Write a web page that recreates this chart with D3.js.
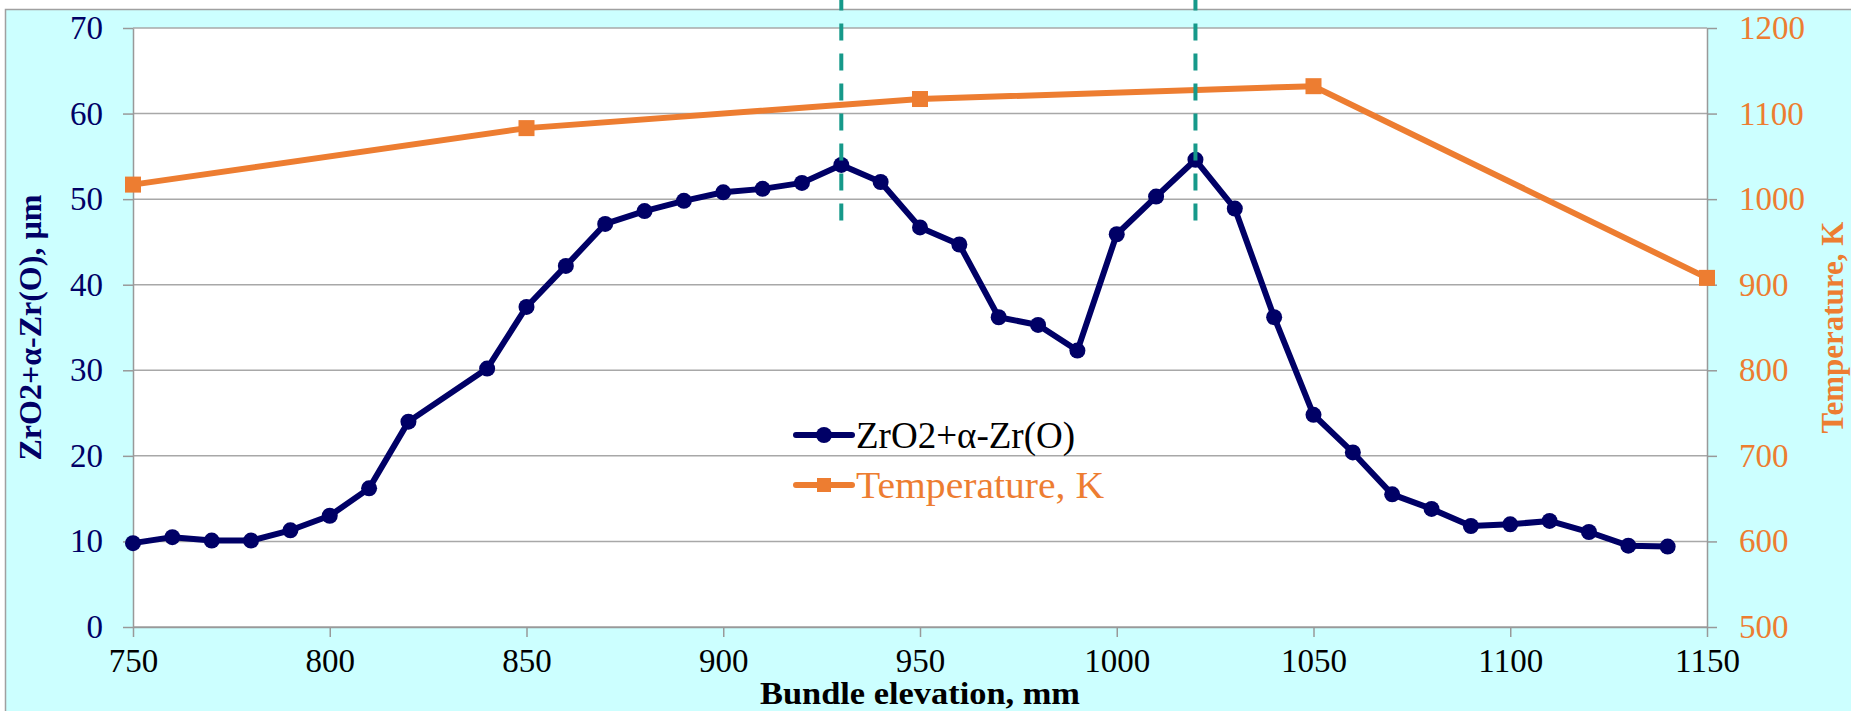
<!DOCTYPE html>
<html>
<head>
<meta charset="utf-8">
<script src="https://cdn.jsdelivr.net/npm/d3@7"></script>
<style>
  body { margin: 0; background: #fff; }
  svg { display: block; }
  .tick text { font-family: "Liberation Serif", serif; }
</style>
</head>
<body>
<div id="chart"></div>
<script>
// datos
var elevation = [750, 760, 770, 780, 790, 800, 810, 820, 840, 850, 860, 870, 880, 890, 900,
  910, 920, 930, 940, 950, 960, 970, 980, 990, 1000, 1010, 1020, 1030, 1040, 1050, 1060,
  1070, 1080, 1090, 1100, 1110, 1120, 1130, 1140];
var thickness = [9.8, 10.5, 10.1, 10.1, 11.3, 13.0, 16.2, 24.0, 30.2, 37.4, 42.2, 47.1, 48.6,
  49.8, 50.8, 51.2, 51.9, 54.0, 52.0, 46.7, 44.7, 36.2, 35.3, 32.3, 45.9, 50.3, 54.6, 48.9,
  36.2, 24.8, 20.4, 15.5, 13.8, 11.8, 12.0, 12.4, 11.1, 9.5, 9.4];

var tempElevation = [750, 850, 950, 1050, 1150];
var temperature = [1017, 1083, 1117, 1132, 908];

var dashedElevation = [930, 1020];
var dashedBottom = 47.5;

var xTicks = [750, 800, 850, 900, 950, 1000, 1050, 1100, 1150];
var leftTicks = [0, 10, 20, 30, 40, 50, 60, 70];
var rightTicks = [500, 600, 700, 800, 900, 1000, 1100, 1200];

var seriesNames = ["ZrO2+α-Zr(O)", "Temperature, K"];
var xTitle = "Bundle elevation, mm";
var leftTitle = "ZrO2+α-Zr(O), µm";
var rightTitle = "Temperature, K";

var width = 1851;
var height = 711;
var plot = { left: 133, right: 1707, top: 28, bottom: 627 };

var navy = "#000066";
var orange = "#ED7D31";
var teal = "#16998A";
var grid = "#A8A8A8";

var svg = d3.select("#chart")
  .append("svg")
  .attr("width", width)
  .attr("height", height);

// fondo
svg.append("rect")
  .attr("x", 5.5)
  .attr("y", 9.5)
  .attr("width", width)
  .attr("height", height)
  .attr("fill", "#CCFFFF")
  .attr("stroke", "#A0A0A0")
  .attr("stroke-width", 1.5);

svg.append("rect")
  .attr("x", plot.left)
  .attr("y", plot.top)
  .attr("width", plot.right - plot.left)
  .attr("height", plot.bottom - plot.top)
  .attr("fill", "#fff");

var x = d3.scaleLinear().domain([750, 1150]).range([plot.left, plot.right]);
var yLeft = d3.scaleLinear().domain([0, 70]).range([plot.bottom, plot.top]);
var yRight = d3.scaleLinear().domain([500, 1200]).range([plot.bottom, plot.top]);

// lineas de la grilla
svg.append("g")
  .selectAll("line")
  .data(leftTicks)
  .enter()
  .append("line")
  .attr("x1", plot.left)
  .attr("x2", plot.right)
  .attr("y1", function (d) { return yLeft(d); })
  .attr("y2", function (d) { return yLeft(d); })
  .attr("stroke", grid)
  .attr("stroke-width", 1.5);

function styleAxis(g, color) {
  g.select(".domain").attr("stroke", "#999").attr("stroke-width", 1.5);
  g.selectAll(".tick line").attr("stroke", "#999").attr("stroke-width", 1.5);
  g.selectAll(".tick text")
    .attr("fill", color)
    .attr("font-size", 33);
}

var fmt = d3.format("d");

var xAxis = svg.append("g")
  .attr("transform", "translate(0," + plot.bottom + ")")
  .call(d3.axisBottom(x).tickValues(xTicks).tickFormat(fmt).tickSize(10).tickPadding(12).tickSizeOuter(0));
styleAxis(xAxis, "#000");

var leftAxis = svg.append("g")
  .attr("transform", "translate(" + plot.left + ",0)")
  .call(d3.axisLeft(yLeft).tickValues(leftTicks).tickFormat(fmt).tickSize(10).tickPadding(20).tickSizeOuter(0));
styleAxis(leftAxis, navy);

var rightAxis = svg.append("g")
  .attr("transform", "translate(" + plot.right + ",0)")
  .call(d3.axisRight(yRight).tickValues(rightTicks).tickFormat(fmt).tickSize(10).tickPadding(22).tickSizeOuter(0));
styleAxis(rightAxis, orange);

// temperatura
var tempData = tempElevation.map(function (d, i) { return [d, temperature[i]]; });
svg.append("path")
  .datum(tempData)
  .attr("fill", "none")
  .attr("stroke", orange)
  .attr("stroke-width", 6)
  .attr("d", d3.line()
    .x(function (d) { return x(d[0]); })
    .y(function (d) { return yRight(d[1]); }));

svg.append("g")
  .selectAll("rect")
  .data(tempData)
  .enter()
  .append("rect")
  .attr("x", function (d) { return x(d[0]) - 8; })
  .attr("y", function (d) { return yRight(d[1]) - 8; })
  .attr("width", 16)
  .attr("height", 16)
  .attr("fill", orange);

// espesor de la capa
var layerData = elevation.map(function (d, i) { return [d, thickness[i]]; });
svg.append("path")
  .datum(layerData)
  .attr("fill", "none")
  .attr("stroke", navy)
  .attr("stroke-width", 6)
  .attr("stroke-linejoin", "round")
  .attr("d", d3.line()
    .x(function (d) { return x(d[0]); })
    .y(function (d) { return yLeft(d[1]); }));

svg.append("g")
  .selectAll("circle")
  .data(layerData)
  .enter()
  .append("circle")
  .attr("cx", function (d) { return x(d[0]); })
  .attr("cy", function (d) { return yLeft(d[1]); })
  .attr("r", 8)
  .attr("fill", navy);

// lineas discontinuas
svg.append("g")
  .selectAll("line")
  .data(dashedElevation)
  .enter()
  .append("line")
  .attr("x1", function (d) { return x(d); })
  .attr("x2", function (d) { return x(d); })
  .attr("y1", yLeft(dashedBottom))
  .attr("y2", 0)
  .attr("stroke", teal)
  .attr("stroke-width", 4)
  .attr("stroke-dasharray", "17,13");

// leyenda
var legend = svg.append("g").attr("transform", "translate(796,435)");
var legendColors = [navy, orange];
var legendText = ["#000", orange];
var legendWidths = [219, 248];
var legendItem = legend.selectAll("g")
  .data(seriesNames)
  .enter()
  .append("g")
  .attr("transform", function (d, i) { return "translate(0," + i * 50 + ")"; });

legendItem.append("line")
  .attr("x1", 0)
  .attr("x2", 56)
  .attr("stroke", function (d, i) { return legendColors[i]; })
  .attr("stroke-width", 6)
  .attr("stroke-linecap", "round");

legendItem.append("path")
  .attr("transform", "translate(28,0)")
  .attr("d", function (d, i) {
    return d3.symbol().type(i === 0 ? d3.symbolCircle : d3.symbolSquare).size(i === 0 ? 200 : 196)();
  })
  .attr("fill", function (d, i) { return legendColors[i]; });

legendItem.append("text")
  .attr("x", 60)
  .attr("y", 13)
  .attr("font-family", "Liberation Serif, serif")
  .attr("font-size", 37)
  .attr("fill", function (d, i) { return legendText[i]; })
  .attr("textLength", function (d, i) { return legendWidths[i]; })
  .attr("lengthAdjust", "spacingAndGlyphs")
  .text(function (d) { return d; });

// titulos de los ejes
svg.append("text")
  .attr("x", (plot.left + plot.right) / 2)
  .attr("y", 704)
  .attr("text-anchor", "middle")
  .attr("font-family", "Liberation Serif, serif")
  .attr("font-weight", "bold")
  .attr("font-size", 31)
  .attr("textLength", 320)
  .attr("lengthAdjust", "spacingAndGlyphs")
  .text(xTitle);

svg.append("text")
  .attr("transform", "translate(41," + (plot.top + plot.bottom) / 2 + ") rotate(-90)")
  .attr("text-anchor", "middle")
  .attr("font-family", "Liberation Serif, serif")
  .attr("font-weight", "bold")
  .attr("font-size", 32)
  .attr("fill", navy)
  .text(leftTitle);

svg.append("text")
  .attr("transform", "translate(1843," + (plot.top + plot.bottom) / 2 + ") rotate(-90)")
  .attr("text-anchor", "middle")
  .attr("font-family", "Liberation Serif, serif")
  .attr("font-weight", "bold")
  .attr("font-size", 31)
  .attr("fill", orange)
  .text(rightTitle);
</script>
</body>
</html>
